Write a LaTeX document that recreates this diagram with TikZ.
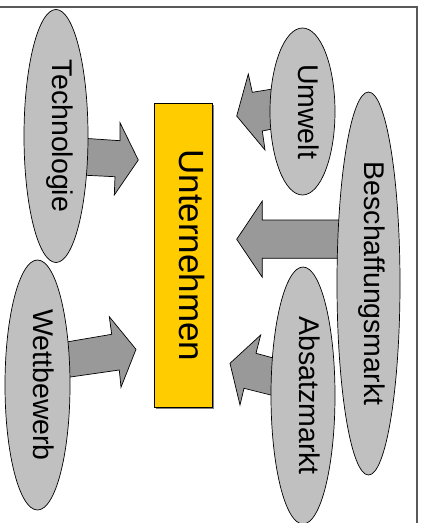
\documentclass[tikz,border=0pt]{standalone}
\usepackage{fontspec}
\setmainfont{Liberation Sans}
\usetikzlibrary{shapes.geometric,shadows}

\definecolor{bubblegray}{HTML}{C0C0C0}
\definecolor{arrowgray}{HTML}{999999}
\definecolor{firmyellow}{HTML}{FFCC00}

\begin{document}
\begin{tikzpicture}[x=1pt, y=-1pt,
	bubble/.style={ellipse, draw, fill=bubblegray, line width=0.7pt, inner sep=0pt, rotate=-90,
		font=\fontsize{28.5}{28.5}\selectfont, text height=1.0em, text depth=0.25em},
	firm/.style={rectangle, draw, fill=firmyellow, line width=0.7pt, inner sep=0pt, rotate=-90,
		font=\fontsize{35}{35}\selectfont, text height=1.15em, text depth=0.25em,
		drop shadow={shadow xshift=1.2pt, shadow yshift=-1.2pt, fill=gray, opacity=1}},
	bigarrow/.style={draw, fill=arrowgray, line width=0.7pt, line join=miter}]
	\useasboundingbox (0,0) rectangle (426,523);

	\draw[gray!70!black, line width=1.2pt] (0,7) -- (417,7) -- (417,523);

	% arrows first, the bubbles cover their tails
	\draw[bigarrow] (80,138) -- (120,140.7) -- (120,122.7) -- (138.3,160) -- (114.3,195) -- (115,176.7) -- (80,175) -- cycle;
	\draw[bigarrow] (60,343.1) -- (111.7,334.3) -- (109.3,316.7) -- (136,349.3) -- (121,387.3) -- (119.3,370) -- (60,378.5) -- cycle;
	\draw[bigarrow] (280,87.8) -- (252.3,92.3) -- (248.3,74) -- (236.7,116) -- (265,150) -- (262.3,131) -- (280,127.4) -- cycle;
	\draw[bigarrow] (345,220) -- (262.3,220) -- (262.3,201) -- (236.7,239.3) -- (262.3,277.3) -- (262.3,258.3) -- (345,258.3) -- cycle;
	\draw[bigarrow] (280,359.8) -- (256,353.3) -- (260.7,335) -- (230,363.3) -- (240,405) -- (244,388.3) -- (280,397.3) -- cycle;

	\node[firm, minimum width=304, minimum height=58.4] (firm) at (183.5,255.3) {Unternehmen};

	\node[bubble, minimum width=253, minimum height=64] (tech) at (56,136) {Technologie};
	\node[bubble, minimum width=250, minimum height=65] (wett) at (37.5,385) {Wettbewerb};
	\node[bubble, minimum width=167, minimum height=65] (umwelt) at (302.5,111.5) {Umwelt};
	\node[bubble, minimum width=257, minimum height=64] (absatz) at (303,395.5) {Absatzmarkt};
	\node[bubble, minimum width=383, minimum height=63] (besch) at (368.5,283.5) {Beschaffungsmarkt};
\end{tikzpicture}
\end{document}
